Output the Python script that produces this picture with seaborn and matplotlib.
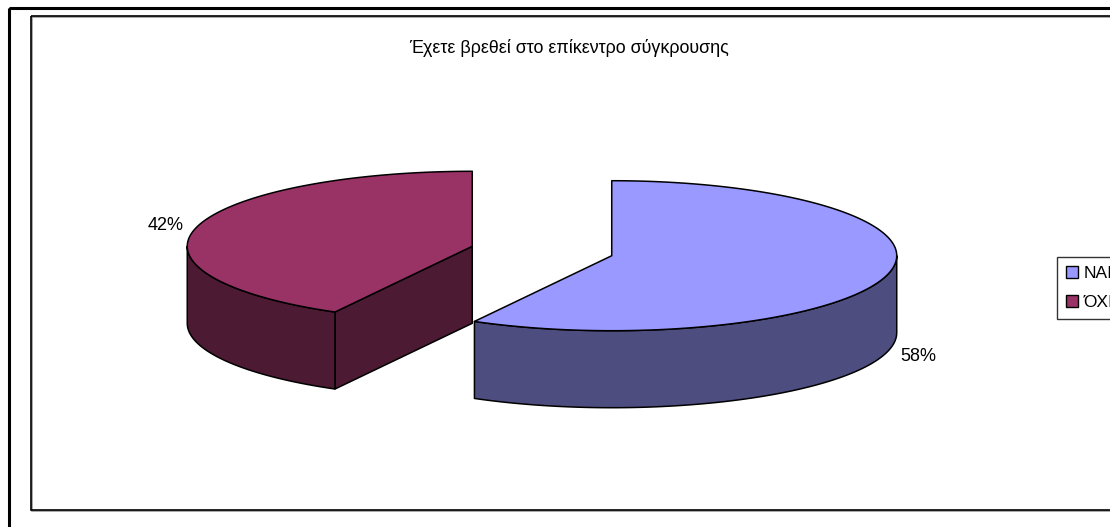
import numpy as np
import matplotlib
matplotlib.use("Agg")
import matplotlib.pyplot as plt
from matplotlib.patches import Polygon, Rectangle, Patch
import seaborn as sns

# ---- data -------------------------------------------------------------
title = "Έχετε βρεθεί στο επίκεντρο σύγκρουσης"
categories = ["ΝΑΙ", "ΌΧΙ"]
shares = [58, 42]
pct_labels = ["58%", "42%"]

# ---- style ------------------------------------------------------------
sns.set_style("white")
plt.rcParams["font.family"] = ["Liberation Sans", "DejaVu Sans"]
plt.rcParams["text.color"] = "black"

top_colors = sns.color_palette(["#9999FF", "#993366"])
side_colors = [tuple(0.5 * v for v in c) for c in top_colors]

W, H = 1110, 527
fig = plt.figure(figsize=(W / 100, H / 100), dpi=100)
ax = fig.add_axes([0, 0, 1, 1])
ax.set_xlim(0, W)
ax.set_ylim(H, 0)
ax.axis("off")

# outer and inner chart frames
ax.add_patch(Rectangle((8.5, 8), W, H, fill=False, ec="black", lw=2.2))
ax.add_patch(Rectangle((32, 17), W, 494, fill=False, ec="#9a9a9a", lw=1.2))
ax.add_patch(Rectangle((30.5, 15.5), W, 494, fill=False, ec="black", lw=1.2))

ax.text(569, 48, title, ha="center", va="center", fontsize=12.9)

# ---- 3-D pie geometry ---------------------------------------------------
cx, cy = 542, 251      # centre of the un-exploded pie
rx, ry = 285, 75       # ellipse semi-axes of the tilted disc
depth = 77             # thickness of the disc
explode = 72           # distance each slice is pulled out

def ell(t, c, dz=0.0):
    t = np.radians(t)
    return np.column_stack([c[0] + rx * np.cos(t), c[1] - ry * np.sin(t) + dz])

total = float(sum(shares))
cum = 0.0
slices = []
for i, v in enumerate(shares):
    a0 = 90 - cum / total * 360
    cum += v
    a1 = 90 - cum / total * 360
    mid = np.radians((a0 + a1) / 2)
    c = (cx + explode * np.cos(mid), cy - explode * (ry / rx) * np.sin(mid))
    slices.append((i, a0, a1, c, mid))

lw = 1.1
for i, a0, a1, c, mid in slices[::-1]:
    fc, sc = top_colors[i], side_colors[i]
    # radial cut faces that face the viewer
    for a, sign in ((a0, 1), (a1, -1)):
        normal_y = sign * np.cos(np.radians(a))
        if normal_y < -1e-6:
            p = ell([a], c)[0]
            face = np.array([c, p, p + [0, depth], [c[0], c[1] + depth]])
            ax.add_patch(Polygon(face, closed=True, fc=sc, ec="black", lw=lw, joinstyle="round"))
    # front curved wall
    for k in (-1, 0, 1):
        lo, hi = max(a1, -180 + 360 * k), min(a0, 0 + 360 * k)
        if hi > lo:
            t = np.linspace(lo, hi, 120)
            top = ell(t, c)
            bot = ell(t[::-1], c, depth)
            ax.add_patch(Polygon(np.vstack([top, bot]), closed=True, fc=sc, ec="black", lw=lw, joinstyle="round"))
    # top face
    t = np.linspace(a1, a0, 300)
    poly = np.vstack([[c], ell(t, c)])
    ax.add_patch(Polygon(poly, closed=True, fc=fc, ec="black", lw=lw, joinstyle="round"))

    # percentage label placed outside the slice
    lx = c[0] + 1.11 * rx * np.cos(mid)
    ly = c[1] - 1.1 * ry * np.sin(mid)
    if np.sin(mid) < 0:
        ly += depth + 3
    ax.text(lx, ly, pct_labels[i], ha="center", va="center", fontsize=13)

handles = [Patch(fc=top_colors[i], ec="black", lw=1) for i in range(len(categories))]
leg = ax.legend(handles, categories, loc="upper left",
                bbox_to_anchor=(1057 / W, 1 - 257 / H), bbox_transform=fig.transFigure,
                fontsize=12.5, frameon=True, fancybox=False, shadow=False,
                handlelength=0.72, handleheight=0.72, handletextpad=0.3,
                labelspacing=0.8, borderpad=0.5, borderaxespad=0)
leg.get_frame().set_edgecolor("black")
leg.get_frame().set_linewidth(1.0)

fig.savefig("out.png", dpi=100)
